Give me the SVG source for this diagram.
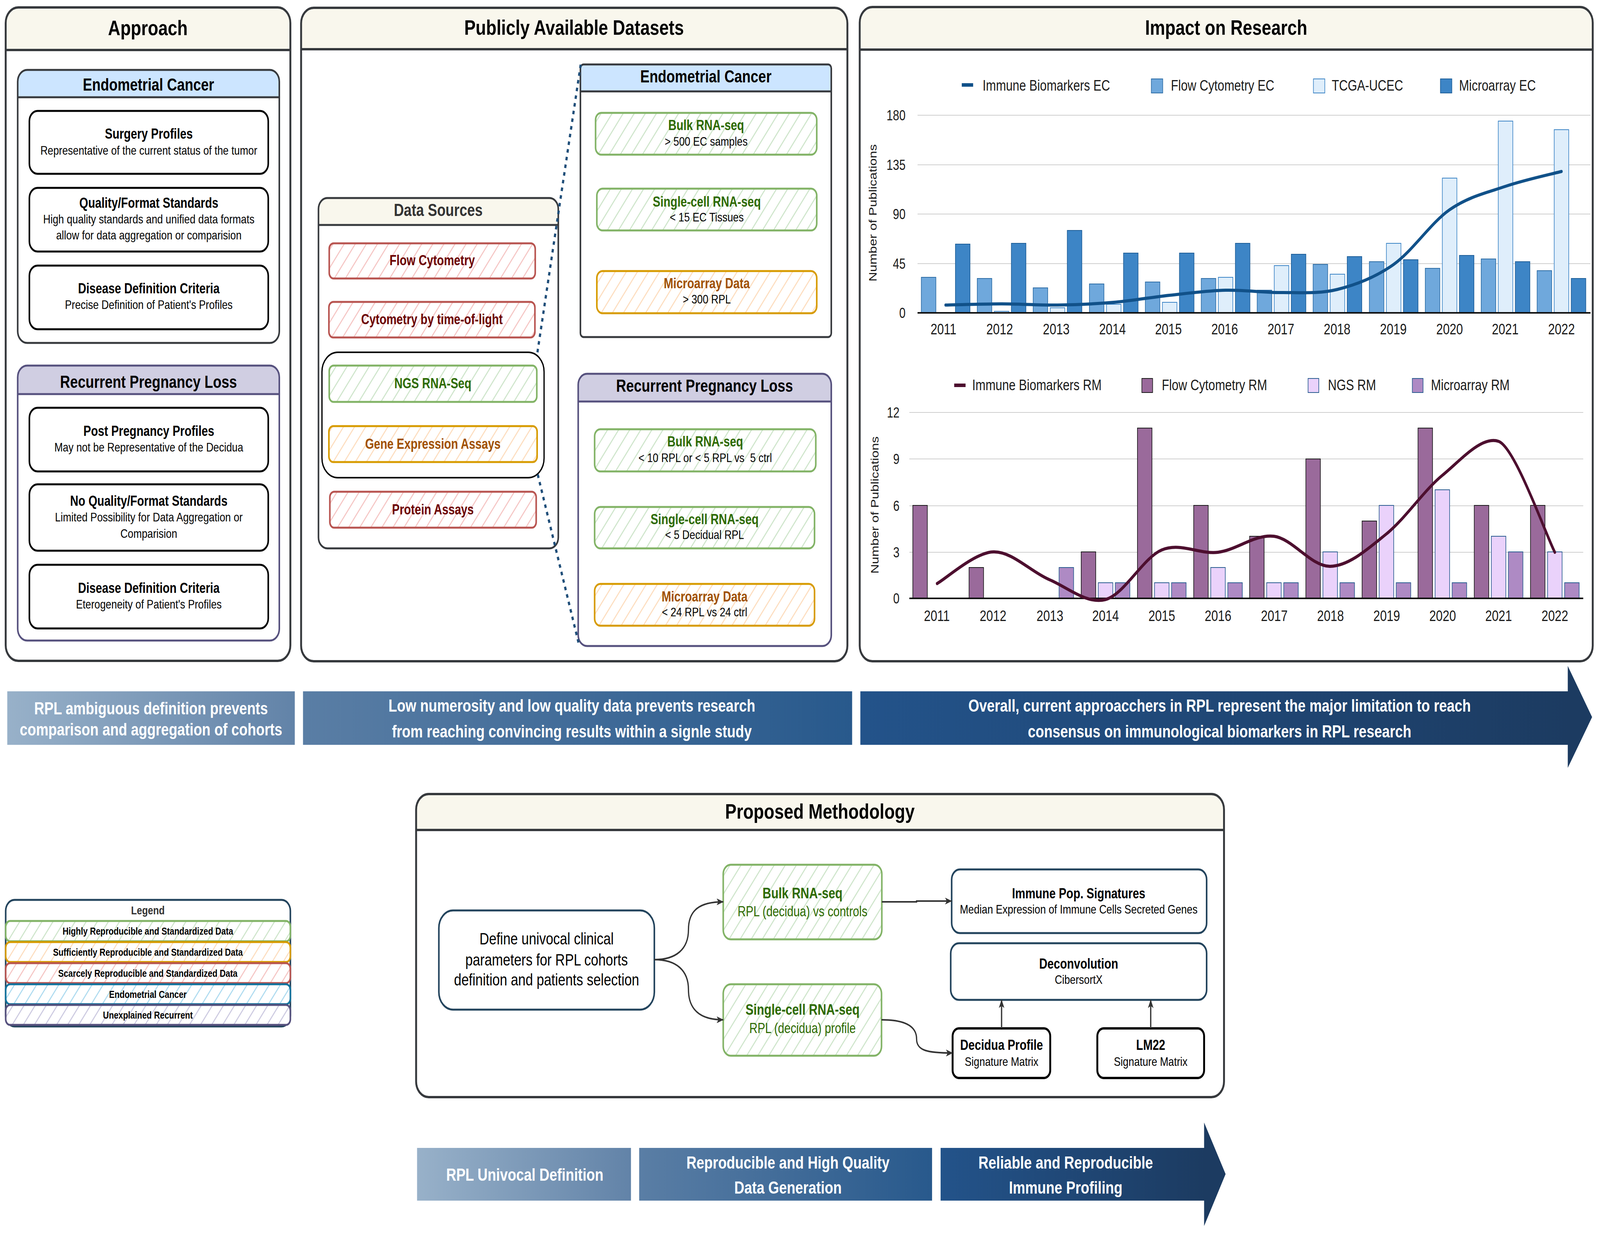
<svg xmlns="http://www.w3.org/2000/svg" width="5064" height="3162" viewBox="0 0 5064 3162" preserveAspectRatio="none">
<defs>
<style>
svg{width:100vw;height:100vh}
text{font-family:"Liberation Sans",Arial,sans-serif;text-anchor:middle;fill:#000}
.ttl{font-size:54px;font-weight:bold}
.hdr{font-size:44px;font-weight:bold}
.nt{font-size:36px;font-weight:bold}
.ns{font-size:32px}
.dsh{font-size:44px;font-weight:bold;fill:#333}
.red{font-size:36px;font-weight:bold;fill:#6b0000}
.grn{font-size:36px;font-weight:bold;fill:#2d6a00}
.org{font-size:36px;font-weight:bold;fill:#a05000}
.gsub{font-size:36px;fill:#2d6a00}
.ax{font-size:36px;fill:#1a1a1a;text-anchor:end}
.yr{font-size:38px;fill:#1a1a1a}
.lg{font-size:38px;fill:#1a1a1a;text-anchor:start}
.yt{font-size:34px;fill:#1a1a1a}
.ban{font-size:44px;font-weight:bold;fill:#fff}
.leg{font-size:26px;font-weight:bold}
.dt{font-size:42px}
.panel{fill:none;stroke:#36393d;stroke-width:6}
.hfill{fill:#f9f7ed}
.box{fill:#fff;stroke:#000;stroke-width:5}
.nbox{fill:#fff;stroke:#23445d;stroke-width:5}
.gi{fill:url(#hG);stroke:#82b366;stroke-width:5}
.oi{fill:url(#hO);stroke:#d79b00;stroke-width:5}
.ri{fill:url(#hR);stroke:#b85450;stroke-width:5}
.bi{fill:url(#hB);stroke:#10739e;stroke-width:5}
.pi{fill:url(#hP);stroke:#56517e;stroke-width:5}
.grid{stroke:#cfcfcf;stroke-width:2}
.base{stroke:#111;stroke-width:4}
.fe{fill:#6fa8dc;stroke:#2f6ea6;stroke-width:2}
.tc{fill:#dfeefb;stroke:#3d85c6;stroke-width:2}
.me{fill:#3d85c6;stroke:#1f5f99;stroke-width:2}
.fr{fill:#9a6a9b;stroke:#1a1a1a;stroke-width:2}
.ng{fill:#ead2fb;stroke:#2b5d91;stroke-width:2}
.mr{fill:#ae8ac4;stroke:#2b5d91;stroke-width:2}
.conn{fill:none;stroke:#333;stroke-width:4}
.dot{fill:none;stroke:#1f4e79;stroke-width:7;stroke-dasharray:9 11}
</style>
<pattern id="hG" patternUnits="userSpaceOnUse" width="28" height="28" patternTransform="rotate(37)"><rect width="28" height="28" fill="#fff"/><line x1="14" y1="0" x2="14" y2="28" stroke="#cce4c8" stroke-width="3"/></pattern>
<pattern id="hO" patternUnits="userSpaceOnUse" width="28" height="28" patternTransform="rotate(37)"><rect width="28" height="28" fill="#fff"/><line x1="14" y1="0" x2="14" y2="28" stroke="#fddcbc" stroke-width="3"/></pattern>
<pattern id="hR" patternUnits="userSpaceOnUse" width="28" height="28" patternTransform="rotate(37)"><rect width="28" height="28" fill="#fff"/><line x1="14" y1="0" x2="14" y2="28" stroke="#f5c3c1" stroke-width="3"/></pattern>
<pattern id="hB" patternUnits="userSpaceOnUse" width="28" height="28" patternTransform="rotate(37)"><rect width="28" height="28" fill="#fff"/><line x1="14" y1="0" x2="14" y2="28" stroke="#a9d9ef" stroke-width="3"/></pattern>
<pattern id="hP" patternUnits="userSpaceOnUse" width="28" height="28" patternTransform="rotate(37)"><rect width="28" height="28" fill="#fff"/><line x1="14" y1="0" x2="14" y2="28" stroke="#cac7df" stroke-width="3"/></pattern>
<linearGradient id="g1" x1="0" y1="0" x2="1" y2="0"><stop offset="0" stop-color="#98b1c9"/><stop offset="1" stop-color="#6283a8"/></linearGradient>
<linearGradient id="g2" x1="0" y1="0" x2="1" y2="0"><stop offset="0" stop-color="#5a7ea5"/><stop offset="1" stop-color="#28598c"/></linearGradient>
<linearGradient id="g3" x1="0" y1="0" x2="1" y2="0"><stop offset="0" stop-color="#23538a"/><stop offset="1" stop-color="#1c3b61"/></linearGradient>
<marker id="arr" viewBox="0 0 20 16" refX="19" refY="8" markerWidth="22" markerHeight="18" markerUnits="userSpaceOnUse" orient="auto"><path d="M0,0 L20,8 L0,16 L5,8 Z" fill="#333"/></marker>
</defs>
<rect width="5064" height="3162" fill="#fff"/>

<!-- Approach panel -->
<g id="approach">
<rect x="18" y="19" width="901" height="1673" rx="40" fill="#fff"/>
<path class="hfill" d="M18,128 V59 A40,40 0 0 1 58,19 H879 A40,40 0 0 1 919,59 V128 Z"/>
<line x1="18" y1="128" x2="919" y2="128" stroke="#36393d" stroke-width="6"/>
<rect class="panel" x="18" y="19" width="901" height="1673" rx="40"/>
<text class="ttl" x="468" y="90">Approach</text>
</g>
<g id="approach-ec">
<path fill="#cce5ff" d="M56,249 V209 A30,30 0 0 1 86,179 H854 A30,30 0 0 1 884,209 V249 Z"/>
<line x1="56" y1="249" x2="884" y2="249" stroke="#36393d" stroke-width="5"/>
<rect x="56" y="179" width="828" height="699" rx="30" fill="none" stroke="#36393d" stroke-width="5"/>
<text class="hdr" x="470" y="232">Endometrial Cancer</text>
</g>
<g id="surgery"><rect class="box" x="93" y="284" width="756" height="161" rx="26"/><text class="nt" x="471" y="355">Surgery Profiles</text><text class="ns" x="471" y="396">Representative of the current status of the tumor</text></g>
<g id="quality"><rect class="box" x="93" y="481" width="756" height="163" rx="26"/><text class="nt" x="471" y="532">Quality/Format Standards</text><text class="ns" x="471" y="572">High quality standards and unified data formats</text><text class="ns" x="471" y="613">allow for data aggregation or comparision</text></g>
<g id="disease-ec"><rect class="box" x="93" y="680" width="756" height="163" rx="26"/><text class="nt" x="471" y="751">Disease Definition Criteria</text><text class="ns" x="471" y="791">Precise Definition of Patient's Profiles</text></g>
<g id="approach-rpl">
<path fill="#d0cee2" d="M56,1009 V966 A30,30 0 0 1 86,936 H854 A30,30 0 0 1 884,966 V1009 Z"/>
<line x1="56" y1="1009" x2="884" y2="1009" stroke="#56517e" stroke-width="5"/>
<rect x="56" y="936" width="828" height="704" rx="30" fill="none" stroke="#56517e" stroke-width="5"/>
<text class="hdr" x="470" y="993">Recurrent Pregnancy Loss</text>
</g>
<g id="post"><rect class="box" x="93" y="1044" width="756" height="163" rx="26"/><text class="nt" x="471" y="1116">Post Pregnancy Profiles</text><text class="ns" x="471" y="1156">May not be Representative of the Decidua</text></g>
<g id="noquality"><rect class="box" x="93" y="1240" width="756" height="170" rx="26"/><text class="nt" x="471" y="1295">No Quality/Format Standards</text><text class="ns" x="471" y="1335">Limited Possibility for Data Aggregation or</text><text class="ns" x="471" y="1377">Comparision</text></g>
<g id="disease-rpl"><rect class="box" x="93" y="1446" width="756" height="163" rx="26"/><text class="nt" x="471" y="1518">Disease Definition Criteria</text><text class="ns" x="471" y="1558">Eterogeneity of Patient's Profiles</text></g>

<!-- Datasets panel -->
<g id="datasets">
<rect x="953" y="20" width="1729" height="1673" rx="40" fill="#fff"/>
<path class="hfill" d="M953,126 V60 A40,40 0 0 1 993,20 H2642 A40,40 0 0 1 2682,60 V126 Z"/>
<line x1="953" y1="126" x2="2682" y2="126" stroke="#36393d" stroke-width="6"/>
<rect class="panel" x="953" y="20" width="1729" height="1673" rx="40"/>
<text class="ttl" x="1817" y="89">Publicly Available Datasets</text>
</g>
<g id="data-sources">
<rect x="1008" y="507" width="759" height="897" rx="28" fill="#fff"/>
<path class="hfill" d="M1008,576 V535 A28,28 0 0 1 1036,507 H1739 A28,28 0 0 1 1767,535 V576 Z"/>
<line x1="1008" y1="576" x2="1767" y2="576" stroke="#36393d" stroke-width="5"/>
<rect x="1008" y="507" width="759" height="897" rx="28" fill="none" stroke="#36393d" stroke-width="5"/>
<text class="dsh" x="1387" y="553">Data Sources</text>
</g>
<g id="flow"><rect class="ri" x="1042" y="623" width="652" height="90" rx="14"/><text class="red" x="1368" y="679">Flow Cytometry</text></g>
<g id="cytof"><rect class="ri" x="1041" y="773" width="652" height="91" rx="14"/><text class="red" x="1367" y="830">Cytometry by time-of-light</text></g>
<g id="seq-group"><rect x="1019" y="902" width="703" height="321" rx="50" fill="none" stroke="#000" stroke-width="4"/></g>
<g id="ngs"><rect class="gi" x="1042" y="936" width="657" height="93" rx="14"/><text class="grn" x="1370" y="994">NGS RNA-Seq</text></g>
<g id="gea"><rect class="oi" x="1041" y="1091" width="659" height="92" rx="14"/><text class="org" x="1370" y="1149">Gene Expression Assays</text></g>
<g id="protein"><rect class="ri" x="1044" y="1259" width="653" height="92" rx="14"/><text class="red" x="1370" y="1317">Protein Assays</text></g>

<g id="ds-ec">
<rect x="1837" y="165" width="794" height="698" rx="10" fill="#fff"/>
<path fill="#cce5ff" d="M1837,234 V175 A10,10 0 0 1 1847,165 H2621 A10,10 0 0 1 2631,175 V234 Z"/>
<line x1="1837" y1="234" x2="2631" y2="234" stroke="#36393d" stroke-width="5"/>
<rect x="1837" y="165" width="794" height="698" rx="10" fill="none" stroke="#36393d" stroke-width="5"/>
<text class="hdr" x="2234" y="211">Endometrial Cancer</text>
</g>
<g id="ec-bulk"><rect class="gi" x="1885" y="289" width="700" height="107" rx="18"/><text class="grn" x="2235" y="333">Bulk RNA-seq</text><text class="ns" x="2235" y="373">&gt; 500 EC samples</text></g>
<g id="ec-sc"><rect class="gi" x="1889" y="483" width="696" height="107" rx="18"/><text class="grn" x="2237" y="529">Single-cell RNA-seq</text><text class="ns" x="2237" y="567">&lt; 15 EC Tissues</text></g>
<g id="ec-micro"><rect class="oi" x="1889" y="694" width="696" height="108" rx="18"/><text class="org" x="2237" y="738">Microarray Data</text><text class="ns" x="2237" y="777">&gt; 300 RPL</text></g>

<g id="ds-rpl">
<rect x="1830" y="957" width="801" height="697" rx="28" fill="#fff"/>
<path fill="#d0cee2" d="M1830,1028 V985 A28,28 0 0 1 1858,957 H2603 A28,28 0 0 1 2631,985 V1028 Z"/>
<line x1="1830" y1="1028" x2="2631" y2="1028" stroke="#56517e" stroke-width="5"/>
<rect x="1830" y="957" width="801" height="697" rx="28" fill="none" stroke="#56517e" stroke-width="5"/>
<text class="hdr" x="2230" y="1003">Recurrent Pregnancy Loss</text>
</g>
<g id="rpl-bulk"><rect class="gi" x="1882" y="1099" width="700" height="108" rx="18"/><text class="grn" x="2232" y="1143">Bulk RNA-seq</text><text class="ns" x="2232" y="1183" xml:space="preserve">&lt; 10 RPL or &lt; 5 RPL vs  5 ctrl</text></g>
<g id="rpl-sc"><rect class="gi" x="1882" y="1298" width="696" height="106" rx="18"/><text class="grn" x="2230" y="1342">Single-cell RNA-seq</text><text class="ns" x="2230" y="1380">&lt; 5 Decidual RPL</text></g>
<g id="rpl-micro"><rect class="oi" x="1882" y="1495" width="696" height="107" rx="18"/><text class="org" x="2230" y="1540">Microarray Data</text><text class="ns" x="2230" y="1578">&lt; 24 RPL vs 24 ctrl</text></g>

<!-- Impact panel -->
<g id="impact">
<rect x="2721" y="18" width="2320" height="1675" rx="40" fill="#fff"/>
<path class="hfill" d="M2721,127 V58 A40,40 0 0 1 2761,18 H5001 A40,40 0 0 1 5041,58 V127 Z"/>
<line x1="2721" y1="127" x2="5041" y2="127" stroke="#36393d" stroke-width="6"/>
<rect class="panel" x="2721" y="18" width="2320" height="1675" rx="40"/>
<text class="ttl" x="3881" y="89">Impact on Research</text>
</g>

<g id="chart-ec">
<rect x="3044" y="213" width="36" height="9" fill="#115189"/>
<text class="lg" x="3110" y="232">Immune Biomarkers EC</text>
<rect class="fe" x="3644" y="202" width="36" height="36"/>
<text class="lg" x="3706" y="232">Flow Cytometry EC</text>
<rect class="tc" x="4157" y="202" width="36" height="36"/>
<text class="lg" x="4215" y="232">TCGA-UCEC</text>
<rect class="me" x="4559" y="202" width="36" height="36"/>
<text class="lg" x="4618" y="232">Microarray EC</text>
<line class="grid" x1="2904" y1="295" x2="5034" y2="295"/>
<line class="grid" x1="2904" y1="422" x2="5034" y2="422"/>
<line class="grid" x1="2904" y1="548" x2="5034" y2="548"/>
<line class="grid" x1="2904" y1="675" x2="5034" y2="675"/>
<text class="ax" x="2866" y="308">180</text>
<text class="ax" x="2866" y="435">135</text>
<text class="ax" x="2866" y="561">90</text>
<text class="ax" x="2866" y="688">45</text>
<text class="ax" x="2866" y="814">0</text>
<text class="yt" transform="translate(2774,545) rotate(-90)">Number of Publications</text>
<rect class="fe" x="2916" y="710" width="46" height="91"/>
<rect class="fe" x="3093" y="713" width="46" height="88"/>
<rect class="fe" x="3270" y="737" width="46" height="64"/>
<rect class="fe" x="3448" y="727" width="46" height="74"/>
<rect class="fe" x="3625" y="722" width="46" height="79"/>
<rect class="fe" x="3802" y="713" width="46" height="88"/>
<rect class="fe" x="3979" y="743" width="46" height="58"/>
<rect class="fe" x="4156" y="677" width="46" height="124"/>
<rect class="fe" x="4334" y="670" width="46" height="131"/>
<rect class="fe" x="4511" y="687" width="46" height="114"/>
<rect class="fe" x="4688" y="663" width="46" height="138"/>
<rect class="fe" x="4865" y="693" width="46" height="108"/>
<rect class="tc" x="3147" y="797" width="46" height="4"/>
<rect class="tc" x="3324" y="788" width="46" height="13"/>
<rect class="tc" x="3502" y="779" width="46" height="22"/>
<rect class="tc" x="3679" y="774" width="46" height="27"/>
<rect class="tc" x="3856" y="710" width="46" height="91"/>
<rect class="tc" x="4033" y="680" width="46" height="121"/>
<rect class="tc" x="4210" y="702" width="46" height="99"/>
<rect class="tc" x="4388" y="623" width="46" height="178"/>
<rect class="tc" x="4565" y="456" width="46" height="345"/>
<rect class="tc" x="4742" y="310" width="46" height="491"/>
<rect class="tc" x="4919" y="332" width="46" height="469"/>
<rect class="me" x="3024" y="625" width="46" height="176"/>
<rect class="me" x="3201" y="623" width="46" height="178"/>
<rect class="me" x="3378" y="590" width="46" height="211"/>
<rect class="me" x="3556" y="648" width="46" height="153"/>
<rect class="me" x="3733" y="648" width="46" height="153"/>
<rect class="me" x="3910" y="623" width="46" height="178"/>
<rect class="me" x="4087" y="651" width="46" height="150"/>
<rect class="me" x="4264" y="657" width="46" height="144"/>
<rect class="me" x="4442" y="665" width="46" height="136"/>
<rect class="me" x="4619" y="654" width="46" height="147"/>
<rect class="me" x="4796" y="670" width="46" height="131"/>
<rect class="me" x="4973" y="713" width="46" height="88"/>
<line class="base" x1="2904" y1="801" x2="5034" y2="801"/>
<path d="M2993,781 C3022.5,780.5 3111,778 3170,778 C3229,778 3287.8,781.7 3347,781 C3406.2,780.3 3465.8,778.2 3525,774 C3584.2,769.8 3643,761.2 3702,756 C3761,750.8 3820,744.2 3879,743 C3938,741.8 3997,749.3 4056,749 C4115,748.7 4173.8,753 4233,741 C4292.2,729 4351.8,711 4411,677 C4470.2,643 4529,570.3 4588,537 C4647,503.7 4706,493.3 4765,477 C4824,460.7 4912.5,445.3 4942,439" fill="none" stroke="#115189" stroke-width="8" stroke-linecap="round"/>
<text class="yr" x="2986" y="856">2011</text>
<text class="yr" x="3164" y="856">2012</text>
<text class="yr" x="3343" y="856">2013</text>
<text class="yr" x="3521" y="856">2014</text>
<text class="yr" x="3698" y="856">2015</text>
<text class="yr" x="3876" y="856">2016</text>
<text class="yr" x="4054" y="856">2017</text>
<text class="yr" x="4232" y="856">2018</text>
<text class="yr" x="4410" y="856">2019</text>
<text class="yr" x="4588" y="856">2020</text>
<text class="yr" x="4764" y="856">2021</text>
<text class="yr" x="4942" y="856">2022</text>
</g>

<g id="chart-rm">
<rect x="3020" y="982" width="36" height="9" fill="#4d0f2f"/>
<text class="lg" x="3077" y="999">Immune Biomarkers RM</text>
<rect class="fr" x="3614" y="969" width="34" height="36"/>
<text class="lg" x="3677" y="999">Flow Cytometry RM</text>
<rect class="ng" x="4140" y="969" width="34" height="36"/>
<text class="lg" x="4203" y="999">NGS RM</text>
<rect class="mr" x="4470" y="969" width="34" height="36"/>
<text class="lg" x="4529" y="999">Microarray RM</text>
<line class="grid" x1="2878" y1="1056" x2="5011" y2="1056"/>
<line class="grid" x1="2878" y1="1175" x2="5011" y2="1175"/>
<line class="grid" x1="2878" y1="1295" x2="5011" y2="1295"/>
<line class="grid" x1="2878" y1="1414" x2="5011" y2="1414"/>
<text class="ax" x="2847" y="1069">12</text>
<text class="ax" x="2847" y="1188">9</text>
<text class="ax" x="2847" y="1308">6</text>
<text class="ax" x="2847" y="1427">3</text>
<text class="ax" x="2847" y="1545">0</text>
<text class="yt" transform="translate(2780,1293) rotate(-90)">Number of Publications</text>
<rect class="fr" x="2889" y="1294" width="46" height="238"/>
<rect class="fr" x="3067" y="1453" width="46" height="79"/>
<rect class="fr" x="3422" y="1413" width="46" height="119"/>
<rect class="fr" x="3600" y="1096" width="46" height="436"/>
<rect class="fr" x="3778" y="1294" width="46" height="238"/>
<rect class="fr" x="3955" y="1373" width="46" height="159"/>
<rect class="fr" x="4133" y="1175" width="46" height="357"/>
<rect class="fr" x="4311" y="1334" width="46" height="198"/>
<rect class="fr" x="4488" y="1096" width="46" height="436"/>
<rect class="fr" x="4666" y="1294" width="46" height="238"/>
<rect class="fr" x="4844" y="1294" width="46" height="238"/>
<rect class="ng" x="3476" y="1492" width="46" height="40"/>
<rect class="ng" x="3654" y="1492" width="46" height="40"/>
<rect class="ng" x="3832" y="1453" width="46" height="79"/>
<rect class="ng" x="4009" y="1492" width="46" height="40"/>
<rect class="ng" x="4187" y="1413" width="46" height="119"/>
<rect class="ng" x="4365" y="1294" width="46" height="238"/>
<rect class="ng" x="4542" y="1254" width="46" height="278"/>
<rect class="ng" x="4720" y="1373" width="46" height="159"/>
<rect class="ng" x="4898" y="1413" width="46" height="119"/>
<rect class="mr" x="3352" y="1453" width="46" height="79"/>
<rect class="mr" x="3530" y="1492" width="46" height="40"/>
<rect class="mr" x="3708" y="1492" width="46" height="40"/>
<rect class="mr" x="3886" y="1492" width="46" height="40"/>
<rect class="mr" x="4063" y="1492" width="46" height="40"/>
<rect class="mr" x="4241" y="1492" width="46" height="40"/>
<rect class="mr" x="4419" y="1492" width="46" height="40"/>
<rect class="mr" x="4596" y="1492" width="46" height="40"/>
<rect class="mr" x="4774" y="1413" width="46" height="119"/>
<rect class="mr" x="4952" y="1492" width="46" height="40"/>
<line class="base" x1="2878" y1="1532" x2="5011" y2="1532"/>
<path d="M2966,1494 C2995.7,1480.5 3084.8,1414.7 3144,1413 C3203.2,1411.3 3261.8,1463.7 3321,1484 C3380.2,1504.3 3439.7,1547.7 3499,1535 C3558.3,1522.3 3617.7,1428.2 3677,1408 C3736.3,1387.8 3795.8,1419.8 3855,1414 C3914.2,1408.2 3972.8,1367 4032,1373 C4091.2,1379 4150.7,1451 4210,1450 C4269.3,1449 4328.8,1405.8 4388,1367 C4447.2,1328.2 4505.8,1256.5 4565,1217 C4624.2,1177.5 4690,1115 4743,1130 C4795,1145 4891.3,1366.7 4921,1414" fill="none" stroke="#4d0f2f" stroke-width="8" stroke-linecap="round"/>
<text class="yr" x="2965" y="1590">2011</text>
<text class="yr" x="3143" y="1590">2012</text>
<text class="yr" x="3323" y="1590">2013</text>
<text class="yr" x="3499" y="1590">2014</text>
<text class="yr" x="3677" y="1590">2015</text>
<text class="yr" x="3855" y="1590">2016</text>
<text class="yr" x="4033" y="1590">2017</text>
<text class="yr" x="4211" y="1590">2018</text>
<text class="yr" x="4389" y="1590">2019</text>
<text class="yr" x="4566" y="1590">2020</text>
<text class="yr" x="4743" y="1590">2021</text>
<text class="yr" x="4921" y="1590">2022</text>
</g>

<!-- Top banner -->
<g id="banner-top">
<rect x="23" y="1770" width="910" height="137" fill="url(#g1)"/>
<rect x="959" y="1770" width="1738" height="137" fill="url(#g2)"/>
<rect x="2723" y="1770" width="2251" height="137" fill="url(#g3)"/>
<polygon points="4962,1705 5039,1836 4962,1966" fill="#1c3b61"/>
<text class="ban" x="478" y="1829">RPL ambiguous definition prevents</text>
<text class="ban" x="478" y="1883">comparison and aggregation of cohorts</text>
<text class="ban" x="1810" y="1822">Low numerosity and low quality data prevents research</text>
<text class="ban" x="1810" y="1888">from reaching convincing results within a signle study</text>
<text class="ban" x="3860" y="1822">Overall, current approacchers in RPL represent the major limitation to reach</text>
<text class="ban" x="3860" y="1888">consensus on immunological biomarkers in RPL research</text>
</g>

<!-- Legend -->
<g id="legend">
<rect x="18" y="2304" width="901" height="324" rx="28" fill="#fff" stroke="#23445d" stroke-width="5"/>
<text x="468" y="2341" style="font-size:30px;font-weight:bold;fill:#333">Legend</text>
<rect class="gi" x="18" y="2358" width="901" height="52" rx="14"/>
<text class="leg" x="468" y="2393">Highly Reproducible and Standardized Data</text>
<rect class="oi" x="18" y="2412" width="901" height="51" rx="14"/>
<text class="leg" x="468" y="2447">Sufficiently Reproducible and Standardized Data</text>
<rect class="ri" x="18" y="2466" width="901" height="51" rx="14"/>
<text class="leg" x="468" y="2501">Scarcely Reproducible and Standardized Data</text>
<rect class="bi" x="18" y="2520" width="901" height="51" rx="14"/>
<text class="leg" x="468" y="2555">Endometrial Cancer</text>
<rect class="pi" x="18" y="2573" width="901" height="51" rx="14"/>
<text class="leg" x="468" y="2608">Unexplained Recurrent</text>
</g>

<!-- Proposed Methodology -->
<g id="methodology">
<rect x="1317" y="2033" width="2557" height="776" rx="40" fill="#fff"/>
<path class="hfill" d="M1317,2125 V2073 A40,40 0 0 1 1357,2033 H3834 A40,40 0 0 1 3874,2073 V2125 Z"/>
<line x1="1317" y1="2125" x2="3874" y2="2125" stroke="#36393d" stroke-width="6"/>
<rect class="panel" x="1317" y="2033" width="2557" height="776" rx="40"/>
<text class="ttl" x="2595" y="2096">Proposed Methodology</text>
</g>
<g id="define"><rect class="nbox" x="1389" y="2331" width="682" height="254" rx="45"/><text class="dt" x="1730" y="2418">Define univocal clinical</text><text class="dt" x="1730" y="2472">parameters for RPL cohorts</text><text class="dt" x="1730" y="2523">definition and patients selection</text></g>
<g id="m-bulk"><rect class="gi" x="2289" y="2214" width="502" height="191" rx="24"/><text class="grn" x="2540" y="2300" style="font-size:38px">Bulk RNA-seq</text><text class="gsub" x="2540" y="2346">RPL (decidua) vs controls</text></g>
<g id="m-sc"><rect class="gi" x="2289" y="2520" width="501" height="183" rx="24"/><text class="grn" x="2540" y="2598" style="font-size:38px">Single-cell RNA-seq</text><text class="gsub" x="2540" y="2645">RPL (decidua) profile</text></g>
<g id="immune-pop"><rect class="nbox" x="3012" y="2226" width="807" height="163" rx="26"/><text class="nt" x="3414" y="2300">Immune Pop. Signatures</text><text class="ns" x="3414" y="2339">Median Expression of Immune Cells Secreted Genes</text></g>
<g id="deconv"><rect class="nbox" x="3009" y="2415" width="810" height="145" rx="26"/><text class="nt" x="3414" y="2480">Deconvolution</text><text class="ns" x="3414" y="2519">CibersortX</text></g>
<g id="decidua"><rect x="3015" y="2633" width="309" height="127" rx="20" fill="#fff" stroke="#000" stroke-width="6"/><text class="nt" x="3170" y="2688">Decidua Profile</text><text class="ns" x="3170" y="2729">Signature Matrix</text></g>
<g id="lm22"><rect x="3473" y="2633" width="338" height="127" rx="20" fill="#fff" stroke="#000" stroke-width="6"/><text class="nt" x="3642" y="2688">LM22</text><text class="ns" x="3642" y="2729">Signature Matrix</text></g>

<!-- Connectors -->
<g id="connectors">
<path class="dot" d="M1701,902 L1838,165"/>
<path class="dot" d="M1702,1215 L1833,1652"/>
<path class="conn" marker-end="url(#arr)" d="M2071,2457 C2140,2457 2179,2430 2179,2380 C2179,2330 2215,2309 2289,2309"/>
<path class="conn" marker-end="url(#arr)" d="M2071,2457 C2140,2457 2179,2484 2179,2534 C2179,2584 2215,2611 2289,2611"/>
<path class="conn" marker-end="url(#arr)" d="M2791,2309 H2901 V2307 H3012"/>
<path class="conn" marker-end="url(#arr)" d="M2790,2611 C2860,2611 2901,2625 2901,2660 C2901,2690 2935,2696 3015,2696"/>
<path class="conn" marker-end="url(#arr)" d="M3170,2633 V2560"/>
<path class="conn" marker-end="url(#arr)" d="M3642,2633 V2560"/>
</g>

<!-- Bottom banner -->
<g id="banner-bottom">
<rect x="1320" y="2939" width="677" height="135" fill="url(#g1)"/>
<rect x="2023" y="2939" width="927" height="135" fill="url(#g2)"/>
<rect x="2977" y="2939" width="837" height="135" fill="url(#g3)"/>
<polygon points="3811,2874 3879,3006 3811,3139" fill="#1c3b61"/>
<text class="ban" x="1661" y="3023">RPL Univocal Definition</text>
<text class="ban" x="2494" y="2992">Reproducible and High Quality</text>
<text class="ban" x="2494" y="3056">Data Generation</text>
<text class="ban" x="3373" y="2992">Reliable and Reproducible</text>
<text class="ban" x="3373" y="3056">Immune Profiling</text>
</g>
</svg>
